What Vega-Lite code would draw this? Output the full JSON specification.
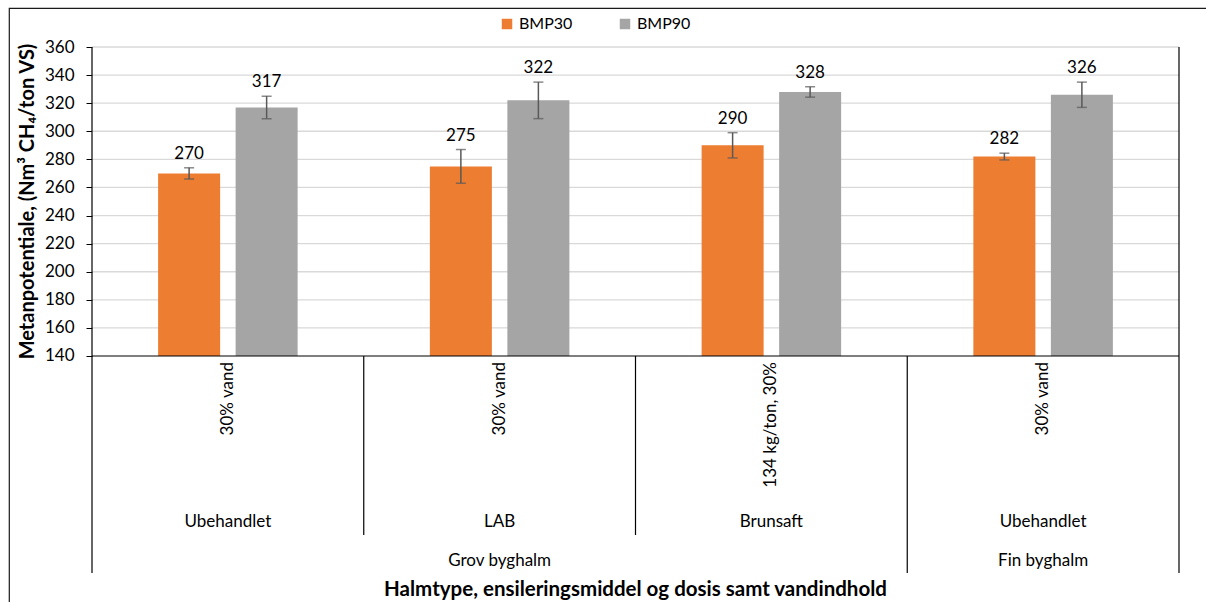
{
  "$schema": "https://vega.github.io/schema/vega-lite/v6.json",
  "width": 1207,
  "height": 598,
  "autosize": {"type": "none"},
  "padding": {"left": 9, "top": 8, "right": 0, "bottom": 0},
  "background": "white",
  "config": {
    "font": "Lato",
    "view": {"stroke": "#1a1a1a", "strokeWidth": 1.2},
    "text": {"font": "Lato", "fontSize": 17, "color": "#000"}
  },
  "datasets": {
    "bmp": [
      {"g": "g1", "gi": 0, "straw": "Grov byghalm", "agent": "Ubehandlet", "dose": "30% vand", "series": "BMP30", "value": 270, "sd": 4},
      {"g": "g1", "gi": 0, "straw": "Grov byghalm", "agent": "Ubehandlet", "dose": "30% vand", "series": "BMP90", "value": 317, "sd": 8},
      {"g": "g2", "gi": 1, "straw": "Grov byghalm", "agent": "LAB", "dose": "30% vand", "series": "BMP30", "value": 275, "sd": 12},
      {"g": "g2", "gi": 1, "straw": "Grov byghalm", "agent": "LAB", "dose": "30% vand", "series": "BMP90", "value": 322, "sd": 13},
      {"g": "g3", "gi": 2, "straw": "Grov byghalm", "agent": "Brunsaft", "dose": "134 kg/ton, 30%", "series": "BMP30", "value": 290, "sd": 9},
      {"g": "g3", "gi": 2, "straw": "Grov byghalm", "agent": "Brunsaft", "dose": "134 kg/ton, 30%", "series": "BMP90", "value": 328, "sd": 3.7},
      {"g": "g4", "gi": 3, "straw": "Fin byghalm", "agent": "Ubehandlet", "dose": "30% vand", "series": "BMP30", "value": 282, "sd": 2.4},
      {"g": "g4", "gi": 3, "straw": "Fin byghalm", "agent": "Ubehandlet", "dose": "30% vand", "series": "BMP90", "value": 326, "sd": 9}
    ],
    "grid": [{"v": 160}, {"v": 180}, {"v": 200}, {"v": 220}, {"v": 240}, {"v": 260}, {"v": 280}, {"v": 300}, {"v": 320}, {"v": 340}, {"v": 360}],
    "bounds": [
      {"b": 0, "kind": "edge"},
      {"b": 1, "kind": "inner"},
      {"b": 2, "kind": "inner"},
      {"b": 3, "kind": "outer"},
      {"b": 4, "kind": "edge"}
    ]
  },
  "resolve": {"scale": {"x": "independent"}},
  "layer": [
    {
      "data": {"name": "grid"},
      "mark": {"type": "rule", "color": "#d9d9d9", "strokeWidth": 1.3},
      "encoding": {
        "x": {"datum": 0, "type": "quantitative", "scale": {"domain": [-0.30543, 4.13615], "nice": false, "zero": false}, "axis": null},
        "x2": {"datum": 4},
        "y": {"field": "v", "type": "quantitative", "scale": {"domain": [-38.0, 387.77], "nice": false, "zero": false}}
      }
    },
    {
      "data": {"name": "bmp"},
      "transform": [
        {"calculate": "datum.value + datum.sd", "as": "hi"},
        {"calculate": "datum.value - datum.sd", "as": "lo"}
      ],
      "encoding": {
        "x": {"field": "g", "type": "nominal", "sort": null, "scale": {"type": "band", "domain": ["g1", "g2", "g3", "g4"], "paddingInner": 0, "paddingOuter": 0.22078, "align": 0.69167}, "axis": null}
      },
      "layer": [
        {
          "mark": {"type": "bar"},
          "encoding": {
            "xOffset": {"field": "series", "type": "nominal", "scale": {"domain": ["BMP30", "BMP90"], "paddingInner": 0.2, "paddingOuter": 0.853}},
            "y": {
              "field": "value", "type": "quantitative",
              "scale": {"domain": [-38.0, 387.77], "nice": false, "zero": false},
              "axis": {
                "values": [140, 160, 180, 200, 220, 240, 260, 280, 300, 320, 340, 360],
                "domain": false, "grid": false, "offset": -83,
                "ticks": true, "tickSize": 6, "tickColor": "#000", "tickWidth": 1,
                "labelFont": "Lato", "labelFontSize": 17, "labelColor": "#000", "labelPadding": 12,
                "title": null
              }
            },
            "y2": {"datum": 140},
            "color": {
              "field": "series", "type": "nominal",
              "scale": {"domain": ["BMP30", "BMP90"], "range": ["#ED7D31", "#A5A5A5"]},
              "legend": {
                "orient": "none", "direction": "horizontal", "legendX": 490, "legendY": 8,
                "title": null, "symbolType": "square", "symbolSize": 110, "symbolStrokeWidth": 0,
                "labelFont": "Lato", "labelFontSize": 16, "labelColor": "#000", "labelOffset": 4,
                "columnPadding": 44, "padding": 0
              }
            }
          }
        },
        {
          "mark": {"type": "rule", "color": "#595959", "strokeWidth": 1.5},
          "encoding": {
            "xOffset": {"field": "series", "type": "nominal"},
            "y": {"field": "lo", "type": "quantitative"},
            "y2": {"field": "hi"}
          }
        },
        {
          "mark": {"type": "tick", "color": "#595959", "thickness": 1.5, "size": 10, "orient": "horizontal"},
          "encoding": {
            "xOffset": {"field": "series", "type": "nominal"},
            "y": {"field": "hi", "type": "quantitative"}
          }
        },
        {
          "mark": {"type": "tick", "color": "#595959", "thickness": 1.5, "size": 10, "orient": "horizontal"},
          "encoding": {
            "xOffset": {"field": "series", "type": "nominal"},
            "y": {"field": "lo", "type": "quantitative"}
          }
        },
        {
          "mark": {"type": "text", "baseline": "alphabetic", "dy": -9, "fontSize": 17},
          "encoding": {
            "xOffset": {"field": "series", "type": "nominal"},
            "y": {"field": "hi", "type": "quantitative"},
            "text": {"field": "value", "type": "quantitative", "format": "d"}
          }
        },
        {
          "transform": [{"filter": "datum.series === 'BMP30'"}],
          "mark": {"type": "text", "angle": 270, "align": "right", "baseline": "middle", "fontSize": 17},
          "encoding": {
            "y": {"datum": 135.7, "type": "quantitative"},
            "text": {"field": "dose", "type": "nominal"}
          }
        },
        {
          "transform": [{"filter": "datum.series === 'BMP30'"}],
          "mark": {"type": "text", "baseline": "middle", "fontSize": 17},
          "encoding": {
            "y": {"datum": 21.8, "type": "quantitative"},
            "text": {"field": "agent", "type": "nominal"}
          }
        }
      ]
    },
    {
      "encoding": {
        "x": {"type": "quantitative", "scale": {"domain": [-0.30543, 4.13615], "nice": false, "zero": false}, "axis": null}
      },
      "layer": [
        {
          "data": {"values": [{}]},
          "mark": {"type": "rule", "color": "#000", "strokeWidth": 1.2},
          "encoding": {
            "x": {"datum": 0, "type": "quantitative"},
            "x2": {"datum": 4},
            "y": {"datum": 140, "type": "quantitative"}
          }
        },
        {
          "data": {"name": "bounds"},
          "transform": [{"filter": "datum.kind === 'edge'"}],
          "mark": {"type": "rule", "color": "#000", "strokeWidth": 1.2},
          "encoding": {
            "x": {"field": "b", "type": "quantitative"},
            "y": {"datum": 360, "type": "quantitative"},
            "y2": {"datum": -14.5}
          }
        },
        {
          "data": {"name": "bounds"},
          "transform": [{"filter": "datum.kind === 'outer'"}],
          "mark": {"type": "rule", "color": "#000", "strokeWidth": 1.2},
          "encoding": {
            "x": {"field": "b", "type": "quantitative"},
            "y": {"datum": 140, "type": "quantitative"},
            "y2": {"datum": -14.5}
          }
        },
        {
          "data": {"name": "bounds"},
          "transform": [{"filter": "datum.kind === 'inner'"}],
          "mark": {"type": "rule", "color": "#000", "strokeWidth": 1.2},
          "encoding": {
            "x": {"field": "b", "type": "quantitative"},
            "y": {"datum": 140, "type": "quantitative"},
            "y2": {"datum": 12.56}
          }
        },
        {
          "data": {"name": "bmp"},
          "transform": [
            {"aggregate": [{"op": "min", "field": "gi", "as": "first"}, {"op": "max", "field": "gi", "as": "last"}], "groupby": ["straw"]},
            {"calculate": "(datum.first + datum.last + 1) / 2", "as": "mid"}
          ],
          "mark": {"type": "text", "baseline": "middle", "fontSize": 17},
          "encoding": {
            "x": {"field": "mid", "type": "quantitative"},
            "y": {"datum": -5.95, "type": "quantitative"},
            "text": {"field": "straw", "type": "nominal"}
          }
        },
        {
          "data": {"values": [{}]},
          "mark": {"type": "text", "baseline": "middle", "fontSize": 20.5, "fontWeight": "bold"},
          "encoding": {
            "x": {"datum": 2, "type": "quantitative"},
            "y": {"datum": -26.6, "type": "quantitative"},
            "text": {"value": "Halmtype, ensileringsmiddel og dosis samt vandindhold"}
          }
        },
        {
          "data": {"values": [{}]},
          "mark": {"type": "text", "angle": 270, "baseline": "middle", "fontSize": 20, "fontWeight": "bold"},
          "encoding": {
            "x": {"datum": -0.2355, "type": "quantitative"},
            "y": {"datum": 250, "type": "quantitative"},
            "text": {"value": "Metanpotentiale, (Nm³ CH₄/ton VS)"}
          }
        }
      ]
    }
  ]
}
